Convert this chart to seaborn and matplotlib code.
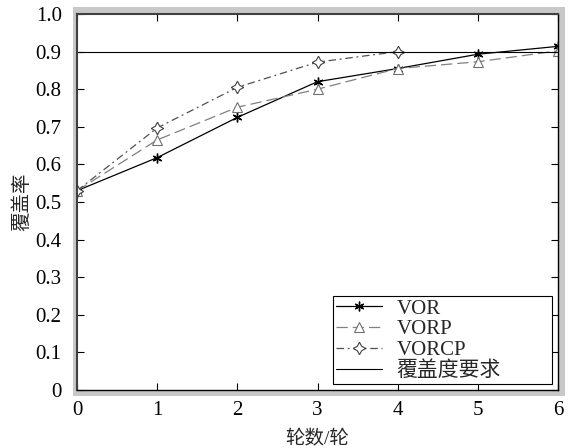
import matplotlib
matplotlib.use("Agg")
import matplotlib.pyplot as plt
import seaborn as sns
import pandas as pd
from matplotlib.patches import Rectangle

rounds_vor = [0, 1, 2, 3, 4, 5, 6]
vor = [0.53, 0.618, 0.725, 0.82, 0.855, 0.893, 0.914]
rounds_vorp = [0, 1, 2, 3, 4, 5, 6]
vorp = [0.53, 0.665, 0.752, 0.80, 0.855, 0.873, 0.902]
rounds_vorcp = [0, 1, 2, 3, 4]
vorcp = [0.53, 0.697, 0.805, 0.872, 0.90]
requirement = 0.9
yticks = [0, 0.1, 0.2, 0.3, 0.4, 0.5, 0.6, 0.7, 0.8, 0.9, 1.0]
ytick_labels = ["0", "0.1", "0.2", "0.3", "0.4", "0.5", "0.6", "0.7", "0.8", "0.9", "1.0"]
xticks = [0, 1, 2, 3, 4, 5, 6]

sns.set_style("ticks")
plt.rcParams["font.family"] = ["Liberation Serif", "Noto Sans CJK SC"]
plt.rcParams["font.size"] = 15

fig = plt.figure(figsize=(5.69, 4.48), dpi=100)
fig.patches.append(Rectangle((73 / 569, 1 - 396 / 448), (565 - 73) / 569, (396 - 7) / 448,
                             transform=fig.transFigure, facecolor="#c8c8c8", edgecolor="none", zorder=-5))
ax = fig.add_axes([77 / 569, 1 - 390 / 448, (558 - 77) / 569, (390 - 14) / 448])
ax.set_zorder(5)
ax.set_facecolor("white")

df_vor = pd.DataFrame({"x": rounds_vor, "y": vor})
df_vorp = pd.DataFrame({"x": rounds_vorp, "y": vorp})
df_vorcp = pd.DataFrame({"x": rounds_vorcp, "y": vorcp})

sns.lineplot(data=df_vor, x="x", y="y", ax=ax, color="black", lw=0.9,
             marker=(6, 2, 0), markersize=7, markeredgecolor="black", markerfacecolor="black",
             markeredgewidth=1.0, label="VOR")
sns.lineplot(data=df_vorp, x="x", y="y", ax=ax, color="#808080", lw=0.9,
             marker="^", markersize=7, markerfacecolor="white",
             markeredgecolor="#707070", markeredgewidth=0.8, label="VORP")
ax.lines[-1].set_dashes([9, 4])
sns.lineplot(data=df_vorcp, x="x", y="y", ax=ax, color="#505050", lw=0.9,
             marker=(4, 1, 0), markersize=9, markerfacecolor="white",
             markeredgecolor="#404040", markeredgewidth=0.8, label="VORCP")
ax.lines[-1].set_dashes([6, 3, 1.5, 3])
ax.axhline(requirement, color="black", lw=0.8, label="覆盖度要求")

ax.set_xlim(0, 6)
ax.set_ylim(0, 1.0)
ax.set_xticks(xticks)
ax.set_xticklabels([str(v) for v in xticks])
ax.set_yticks(yticks)
ax.set_yticklabels(ytick_labels)
ax.tick_params(direction="in", length=5, width=0.8, top=True, right=True, labelsize=15,
               colors="black", pad=8)
ax.tick_params(axis="y", pad=11)
for s in ax.spines.values():
    s.set_visible(True)
    s.set_color("black")
    s.set_linewidth(1.0)
ax.spines["left"].set_color("#404040")
ax.spines["top"].set_color("#404040")
ax.spines["left"].set_linewidth(1.5)
ax.spines["top"].set_linewidth(1.5)

ax.set_xlabel("轮数/轮", fontsize=14, labelpad=7)
ax.set_ylabel("覆盖率", fontsize=14, labelpad=3)

leg = ax.legend(loc="lower left", bbox_to_anchor=(0.532, 0.016, 0.455, 0.234), mode="expand",
                fontsize=15, frameon=True, fancybox=False,
                edgecolor="black", framealpha=1, borderpad=0.15, labelspacing=0.05,
                handlelength=2.2, handletextpad=0.7, borderaxespad=0.0)
leg.get_frame().set_linewidth(0.8)

fig.savefig("out.png", dpi=100)
